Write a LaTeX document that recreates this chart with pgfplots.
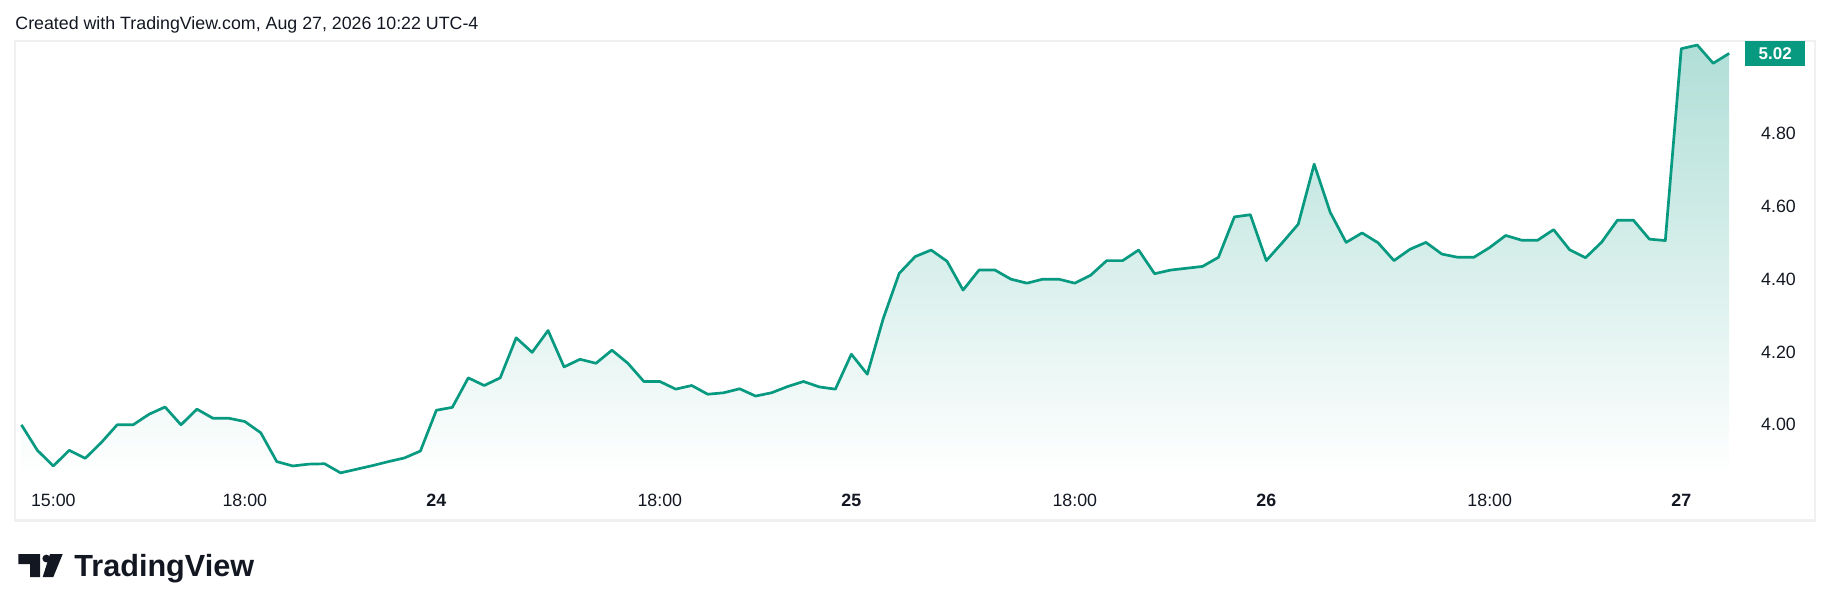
\documentclass[border=0pt]{standalone}
\usepackage{fontspec}
\setmainfont{Liberation Sans}
\usepackage{pgfplots}
\pgfplotsset{compat=1.18}
\usepackage{pgfplotstable}
\definecolor{tvgreen}{RGB}{8,153,129}
\definecolor{tvtext}{RGB}{19,23,34}
\definecolor{tvframe}{RGB}{240,240,240}
\colorlet{filltop}{tvgreen!32!white}

\pgfplotstableread{
i v
0 4.000
1 3.930
2 3.887
3 3.930
4 3.908
5 3.951
6 4.000
7 4.000
8 4.029
9 4.049
10 4.000
11 4.043
12 4.018
13 4.018
14 4.009
15 3.978
16 3.899
17 3.887
18 3.892
19 3.893
20 3.868
21 3.878
22 3.888
23 3.899
24 3.909
25 3.928
26 4.040
27 4.048
28 4.129
29 4.108
30 4.129
31 4.239
32 4.199
33 4.259
34 4.159
35 4.180
36 4.169
37 4.205
38 4.169
39 4.119
40 4.119
41 4.098
42 4.108
43 4.084
44 4.088
45 4.099
46 4.079
47 4.088
48 4.105
49 4.119
50 4.104
51 4.098
52 4.194
53 4.139
54 4.292
55 4.416
56 4.462
57 4.480
58 4.449
59 4.370
60 4.425
61 4.425
62 4.400
63 4.389
64 4.400
65 4.400
66 4.389
67 4.411
68 4.451
69 4.451
70 4.480
71 4.415
72 4.425
73 4.430
74 4.435
75 4.460
76 4.571
77 4.577
78 4.451
79 4.500
80 4.551
81 4.716
82 4.584
83 4.501
84 4.527
85 4.500
86 4.451
87 4.482
88 4.501
89 4.469
90 4.460
91 4.460
92 4.487
93 4.520
94 4.507
95 4.507
96 4.536
97 4.481
98 4.459
99 4.501
100 4.562
101 4.562
102 4.510
103 4.506
104 5.033
105 5.043
106 4.993
107 5.020
}\pricedata

\begin{document}
\begin{tikzpicture}
\useasboundingbox (0,0) rectangle (915pt,-305.5pt);
\node[anchor=base west, inner sep=0pt, font=\fontsize{8.9}{10}\selectfont, text=tvtext] at (7.5pt,-14.6pt) {Created with TradingView.com, Aug 27, 2026 10:22 UTC-4};
\draw[tvframe, line width=1.2pt] (7.5pt,-20.5pt) rectangle (907.5pt,-260.3pt);
\begin{axis}[
  at={(7.5pt,-238pt)}, anchor=south west,
  width=862.5pt, height=217.5pt, scale only axis,
  xmin=-0.401, xmax=107.68, ymin=3.8594, ymax=5.0541,
  axis line style={draw=none}, tick style={draw=none}, major tick length=0pt,
  xtick={2,14,26,40,52,66,78,92,104},
  xticklabels={15:00,18:00,\textbf{24},18:00,\textbf{25},18:00,\textbf{26},18:00,\textbf{27}},
  xticklabel style={anchor=center, yshift=-12.35pt},
  ytick={4,4.2,4.4,4.6,4.8},
  yticklabel pos=right,
  yticklabel style={anchor=center, xshift=19.25pt},
  yticklabel style={/pgf/number format/.cd, fixed, fixed zerofill, precision=2, assume math mode=true},
  ticklabel style={font=\fontsize{8.9}{10}\selectfont, text=tvtext},
  clip=true,
]
\addplot[draw=none, top color=filltop, bottom color=white] table[x=i,y=v]{\pricedata} -- (axis cs:107,3.8594) -- (axis cs:0,3.8594) -- cycle;
\addplot[tvgreen, line width=1.35pt, line join=round, mark=none] table[x=i,y=v]{\pricedata};
\coordinate (last) at (axis cs:107,5.02);
\end{axis}
\node[fill=tvgreen, text=white, font=\fontsize{8.5}{10}\selectfont\bfseries, minimum width=30pt, minimum height=12.7pt, inner sep=0pt, anchor=center] at ([xshift=23pt]last) {5.02};
\fill[tvtext] (9.15pt,-277pt) -- (20pt,-277pt) -- (20pt,-288.5pt) -- (15pt,-288.5pt) -- (15pt,-282pt) -- (9.15pt,-282pt) -- cycle;
\fill[tvtext] (23.15pt,-279.25pt) circle (1.95pt);
\fill[tvtext] (25pt,-277pt) -- (31.35pt,-277pt) -- (26.65pt,-288.5pt) -- (21.35pt,-288.5pt) -- cycle;
\node[anchor=base west, inner sep=0pt, font=\fontsize{15.3}{18}\selectfont\bfseries, text=tvtext] at (37pt,-288.35pt) {TradingView};
\end{tikzpicture}
\end{document}
